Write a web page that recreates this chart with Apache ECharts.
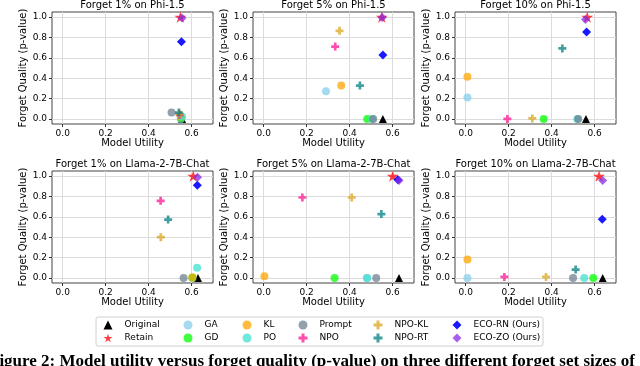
<!DOCTYPE html>
<html>
<head>
<meta charset="utf-8">
<script src="https://cdn.jsdelivr.net/npm/echarts@6/dist/echarts.min.js"></script>
<style>
  html, body { margin: 0; padding: 0; background: #fff; }
  #main { width: 640px; height: 366px; }
</style>
</head>
<body>
<div id="main"></div>
<script>
// method order = plotting order (later ones drawn on top)
var methods = ['Original', 'Retain', 'GA', 'GD', 'KL', 'PO', 'Prompt', 'NPO', 'NPO-KL', 'NPO-RT', 'ECO-RN (Ours)', 'ECO-ZO (Ours)'];
var panelTitles = ['Forget 1% on Phi-1.5', 'Forget 5% on Phi-1.5', 'Forget 10% on Phi-1.5',
                   'Forget 1% on Llama-2-7B-Chat', 'Forget 5% on Llama-2-7B-Chat', 'Forget 10% on Llama-2-7B-Chat'];
var xTicks = [0, 0.2, 0.4, 0.6];
var yTicks = [0, 0.2, 0.4, 0.6, 0.8, 1.0];

// model utility / forget quality, one value per method (same order as methods)
var utilPhi1  = [0.556, 0.548, 0.550, 0.550, 0.550, 0.556, 0.507, 0.545, 0.545, 0.541, 0.553, 0.556];
var fqPhi1    = [0.000, 1.000, 0.000, 0.010, 0.020, 0.022, 0.062, 0.040, 0.050, 0.062, 0.757, 0.990];
var utilPhi5  = [0.555, 0.550, 0.290, 0.482, 0.361, 0.505, 0.510, 0.333, 0.353, 0.448, 0.555, 0.552];
var fqPhi5    = [0.000, 1.000, 0.272, 0.000, 0.327, 0.000, 0.000, 0.710, 0.865, 0.327, 0.628, 0.995];
var utilPhi10 = [0.560, 0.566, 0.008, 0.363, 0.008, 0.520, 0.524, 0.194, 0.310, 0.450, 0.563, 0.558];
var fqPhi10   = [0.000, 1.000, 0.210, 0.000, 0.414, 0.000, 0.000, 0.000, 0.005, 0.692, 0.854, 0.977];
var utilLl1   = [0.630, 0.608, 0.604, 0.604, 0.604, 0.626, 0.563, 0.456, 0.457, 0.491, 0.627, 0.628];
var fqLl1     = [0.000, 1.000, 0.000, 0.003, 0.005, 0.099, 0.000, 0.757, 0.400, 0.573, 0.910, 0.988];
var utilLl5   = [0.630, 0.601, 0.480, 0.330, 0.003, 0.482, 0.524, 0.180, 0.410, 0.548, 0.625, 0.630];
var fqLl5     = [0.000, 1.000, 0.000, 0.000, 0.016, 0.000, 0.000, 0.790, 0.790, 0.627, 0.965, 0.956];
var utilLl10  = [0.638, 0.621, 0.008, 0.594, 0.008, 0.552, 0.500, 0.180, 0.374, 0.512, 0.636, 0.638];
var fqLl10    = [0.000, 1.000, 0.000, 0.000, 0.180, 0.000, 0.000, 0.010, 0.010, 0.082, 0.576, 0.956];

var utils = [utilPhi1, utilPhi5, utilPhi10, utilLl1, utilLl5, utilLl10];
var fqs = [fqPhi1, fqPhi5, fqPhi10, fqLl1, fqLl5, fqLl10];

var starPath = 'path://M0,-10L2.245,-3.09L9.511,-3.09L3.633,1.18L5.878,8.09L0,3.82L-5.878,8.09L-3.633,1.18L-9.511,-3.09L-2.245,-3.09Z';
var plusPath = 'path://M-1,-3L1,-3L1,-1L3,-1L3,1L1,1L1,3L-1,3L-1,1L-3,1L-3,-1L-1,-1Z';

var markStyles = {
  'Original':      { symbol: 'triangle', size: 8,  color: '#000000', op: 1 },
  'Retain':        { symbol: starPath,   size: 12, color: '#ff0000', op: 0.75 },
  'GA':            { symbol: 'circle',   size: 8,  color: '#87ceeb', op: 0.75 },
  'GD':            { symbol: 'circle',   size: 8,  color: '#00ff00', op: 0.75 },
  'KL':            { symbol: 'circle',   size: 8,  color: '#ffa500', op: 0.75 },
  'PO':            { symbol: 'circle',   size: 8,  color: '#40e0d0', op: 0.75 },
  'Prompt':        { symbol: 'circle',   size: 8,  color: '#708090', op: 0.75 },
  'NPO':           { symbol: plusPath,   size: 8,  color: '#ff1493', op: 0.75 },
  'NPO-KL':        { symbol: plusPath,   size: 8,  color: '#daa520', op: 0.75 },
  'NPO-RT':        { symbol: plusPath,   size: 8,  color: '#008080', op: 0.75 },
  'ECO-RN (Ours)': { symbol: 'diamond',  size: 9,  color: '#0000ff', op: 0.9 },
  'ECO-ZO (Ours)': { symbol: 'diamond',  size: 9,  color: '#8a2be2', op: 0.75 }
};

var fontName = 'DejaVu Sans';
var colLeft = [52, 253, 455];
var rowTop = [12, 171];
var gw = 161, gh = 112;

var grids = [], xAxes = [], yAxes = [], seriesList = [], graphics = [];

for (var p = 0; p < 6; p++) {
  var gLeft = colLeft[p % 3], gTop = rowTop[Math.floor(p / 3)];
  grids.push({ left: gLeft, top: gTop, width: gw, height: gh, show: true,
    borderColor: '#444', borderWidth: 1 });
  xAxes.push({
    type: 'value', gridIndex: p, min: -0.05, max: 0.7, splitNumber: 4,
    name: 'Model Utility', nameLocation: 'middle', nameGap: 14,
    nameTextStyle: { fontFamily: fontName, fontSize: 10, color: '#000' },
    axisLine: { show: false, onZero: false },
    axisTick: { show: true, length: 3, customValues: xTicks, lineStyle: { color: '#333' } },
    axisLabel: { customValues: xTicks, fontFamily: fontName, fontSize: 9, color: '#000', margin: 5,
      formatter: function (v) { return v.toFixed(1); } },
    splitLine: { show: true, lineStyle: { color: '#dcdcdc', width: 1 } }
  });
  yAxes.push({
    type: 'value', gridIndex: p, min: -0.05, max: 1.05, splitNumber: 5,
    name: 'Forget Quality (p-value)', nameLocation: 'middle', nameGap: 14,
    nameTextStyle: { fontFamily: fontName, fontSize: 10, color: '#000' },
    axisLine: { show: false, onZero: false },
    axisTick: { show: true, length: 3, customValues: yTicks, lineStyle: { color: '#333' } },
    axisLabel: { customValues: yTicks, fontFamily: fontName, fontSize: 9, color: '#000', margin: 5,
      formatter: function (v) { return v.toFixed(1); } },
    splitLine: { show: true, lineStyle: { color: '#dcdcdc', width: 1 } }
  });
  graphics.push({ type: 'text', x: gLeft + gw / 2, y: gTop - 12,
    style: { text: panelTitles[p], font: '10px "DejaVu Sans"', fill: '#000', textAlign: 'center' } });

  for (var m = 0; m < methods.length; m++) {
    var st = markStyles[methods[m]];
    seriesList.push({
      type: 'scatter', name: methods[m], xAxisIndex: p, yAxisIndex: p,
      data: [[utils[p][m], fqs[p][m]]],
      symbol: st.symbol, symbolSize: st.size, symbolKeepAspect: true,
      itemStyle: { color: st.color, opacity: st.op },
      clip: false, silent: true
    });
  }
}

// legend: matplotlib fills it column by column, 2 rows x 6 columns
var legendMarkerX = [108, 188, 247, 303, 378, 457];
var legends = [];
for (var c = 0; c < 6; c++) {
  var items = [];
  for (var r = 0; r < 2; r++) {
    var nm = methods[2 * c + r];
    items.push({ name: nm, icon: markStyles[nm].symbol });
  }
  legends.push({
    orient: 'vertical', left: legendMarkerX[c] - 4.5, top: 320.5, padding: 0,
    itemWidth: 9, itemHeight: 9, itemGap: 4,
    data: items,
    textStyle: { fontFamily: fontName, fontSize: 9, color: '#000', padding: [0, 0, 0, 7] },
    selectedMode: false
  });
}

graphics.push({ type: 'rect', z: -1, shape: { x: 96, y: 317, width: 447, height: 29, r: 2 },
  style: { fill: '#fff', stroke: '#d0d0d0', lineWidth: 1 } });
graphics.push({ type: 'text', x: -11, y: 353,
  style: { text: 'Figure 2: Model utility versus forget quality (p-value) on three different forget set sizes of',
    font: 'bold 17px "Liberation Serif"', fill: '#000' } });

var chart = echarts.init(document.getElementById('main'));
chart.setOption({
  animation: false,
  backgroundColor: '#fff',
  grid: grids,
  xAxis: xAxes,
  yAxis: yAxes,
  legend: legends,
  graphic: graphics,
  series: seriesList
});
</script>
</body>
</html>
